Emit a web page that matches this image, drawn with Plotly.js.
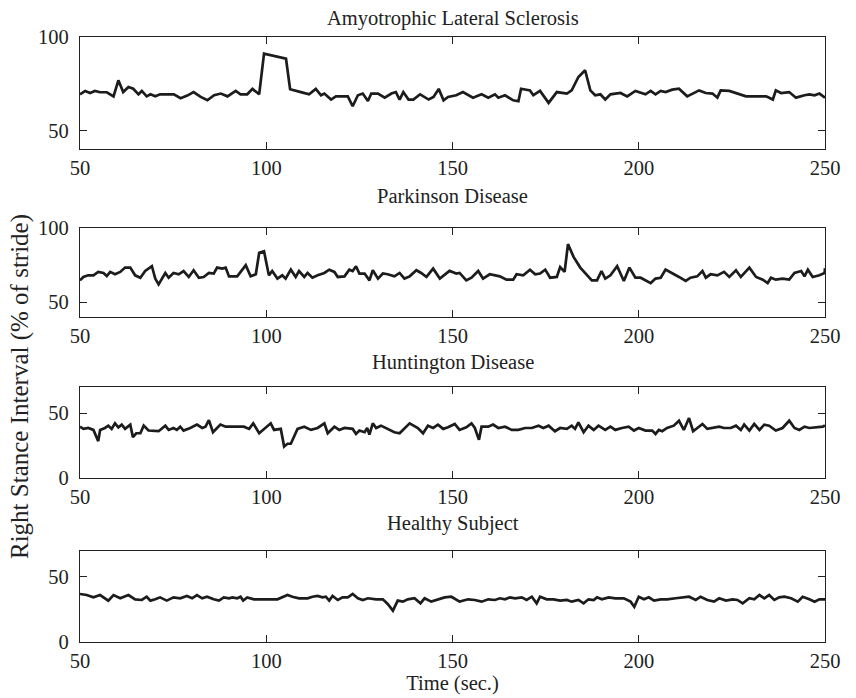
<!DOCTYPE html>
<html>
<head>
<meta charset="utf-8">
<script src="https://cdn.plot.ly/plotly-3.0.1.min.js"></script>
<style>html,body{margin:0;padding:0;background:#fff;}#chart{width:856px;height:698px;}</style>
</head>
<body>
<div id="chart"></div>
<script>
// ---- Data ----
const panelTitles = ["Amyotrophic Lateral Sclerosis", "Parkinson Disease", "Huntington Disease", "Healthy Subject"];
const xTickVals = [50, 100, 150, 200, 250];
const yTickVals = [[50, 100], [50, 100], [0, 50], [0, 50]];
const yRanges = [[40, 100], [40, 100], [0, 70], [0, 70]];

const alsTime = [50,51.4,52.7,54,55.4,57.2,59,60.3,61.6,63,64.3,65.7,66.6,67.9,68.9,70.2,71.5,75.2,77,78.8,80.5,82.4,84.2,86,87.8,89.6,91.8,93.1,94.9,96.3,98.1,99.4,105.3,106.4,109.3,111.5,113.3,114.7,115.6,117.4,118.7,121.9,123.2,124.6,125.9,127.3,128.2,130,131.8,133.6,134.8,135.8,136.8,138.2,139.5,141.3,143.6,144.9,146.3,147.6,148.8,151,152.8,155.5,157.8,159.6,161.4,162.3,164.1,166.3,167.7,168.4,170.8,171.7,173.5,175.8,178,180.7,182,183.8,185.6,187,188.3,189.7,191,192.4,195.1,196.9,199.1,201.8,203.2,204.5,205.9,207.2,209,210.8,213,216.2,218,219.8,221.1,222,224.3,226.1,228.8,234.2,236,236.8,238.2,240.4,242.2,244.5,245.8,247.2,248.5,250];
const alsValue = [69.3,71.1,70.0,71.1,70.4,70.4,68.2,76.8,70.5,73.2,72.3,69.3,71.1,68.2,69.3,68.2,69.3,69.3,67.2,68.6,70.5,67.9,66.1,68.8,69.7,68.2,71.1,69.3,69.3,72.2,69.3,91.1,88.4,72,70.5,69.3,72.2,68.8,69.7,66.5,68.2,68.2,62.9,68.8,69.7,65.7,69.7,69.7,67.5,69.7,70.5,66.5,70.5,66.5,66.5,69.3,66.5,67.9,72.2,66.1,67.9,68.8,70.5,67.5,69.3,67.5,69.3,67.5,68.8,66.1,65.6,72.3,71.4,68.8,71.1,64.7,70.5,69.7,71.4,78.6,82.2,71.4,68.8,69.3,66.5,69.3,70,68.2,71.1,69.3,71.1,69.3,71.1,70.5,71.8,72.3,68.2,71.4,70,69.7,67.5,71.4,71.1,70,68.2,68.2,66.5,71.4,70,70.5,67.5,68.8,69.3,68.8,69.7,67.5];

const pdTime = [50,50.9,52.2,53.6,54.9,56.3,57.2,58.1,59.4,60.8,62.1,63.5,64.8,66.2,67.5,69.3,70.2,71.1,72.9,73.8,75.1,76.5,77.8,79.2,80.5,81.9,83.2,84.6,85.9,86.8,88.2,89.1,90,92.2,94.5,95.8,97.2,98.1,99.4,100.7,101.6,103,104.3,105.2,106.6,107.9,108.8,110.2,111.1,112.4,113.8,115.6,116.9,118.3,119.2,121,122.3,123.2,124.1,125,126.4,127.7,128.6,130,131.3,132.6,134.4,135.8,137.1,138.5,140.3,141.6,143,144.8,146.6,149.2,151,151.9,153.7,155.1,156.9,158.2,160,161.4,162.7,164.5,166.3,167.2,169,170.8,172.2,173.5,174.9,176.2,178,178.9,180.1,181,182.5,184.3,186.1,187.4,188.8,190,191,192.4,194.2,196,197.5,199.1,200.5,201.8,203.2,204.5,205.9,207.2,209,210.8,212.6,213.9,215.7,217.1,218,219.3,221.1,222.9,224.3,226.1,227.4,229.7,231.5,233.3,234.6,235.5,236.8,238.6,240.4,241.8,243.6,244.5,245.4,246.7,248.5,249.9,250];
const pdValue = [64.6,66.9,68,68,70.3,69.6,67.5,70.3,68.7,70.3,73.2,73.2,68,66.4,70.9,74.1,65.8,61.9,69.6,66.4,69.6,68.7,70.9,66.9,71.4,66.4,66.9,69.6,69.2,73.2,72.5,73.2,67.3,67.3,74.8,67.3,68.7,83.1,84.2,68,70.9,65.8,68,65.8,71.8,66.9,70.9,66.9,69.6,66.4,68,69.6,71.8,70.3,66.9,67.3,71.8,70.9,74.1,69.2,69.2,64.6,71.4,65.8,69.2,68.7,67.3,69.6,65.8,67.3,71.4,69.6,66.9,72.5,65.8,71,69.2,69.6,64.6,66.4,70.9,65.8,68.7,68,67.3,65.1,65.1,68.7,68,71.8,68.7,69.2,71.8,66.4,66.9,73.6,70.3,89,80.4,73.2,68,64.6,64.6,70.9,65.8,68,74.1,64.2,73.2,66.4,66.4,64.6,62.8,65.8,66.4,71.8,69.6,66.9,64.2,66.4,67.3,70.9,66.4,68.7,68,70.3,66.9,71.4,66.9,73.2,66.9,65.1,62.8,66.4,65.1,65.8,65.1,69.6,70.9,67.3,71.8,66.9,68,69.6,72.8];

const hdTime = [50,50.9,52.2,53.6,54.9,55.4,56.7,57.6,58.5,59.4,60.3,61.2,62.1,63.5,64.2,65.1,66.2,67.1,68.4,69.8,71.1,72.9,73.8,75.1,76,76.9,77.8,79.6,81.4,82.8,83.7,84.6,85.7,86.8,87.7,89.1,94,95.4,96.5,98.1,99.4,101.2,102.1,103.9,104.8,105.7,106.6,108.4,110.2,112,113.8,115.6,116.5,118.3,119.6,121,123.2,124.1,125,126.4,127.1,127.7,128.6,129.5,130.8,132.6,134.4,135.8,138.5,140.7,142.1,143.4,144.8,146.1,147.5,148.8,150.6,151.9,153.7,155.1,156,157.1,157.8,159.6,160.9,162.3,164.1,165.9,167.7,169.5,171.3,173.1,174.4,175.8,177.5,178.9,180.7,182,182.9,183.8,185.2,186.5,187.9,189.2,191,192.4,193.7,195.5,197.3,198.7,200,201.8,203.6,204.5,205.4,206.3,207.6,209.4,210.8,212.1,213.5,214.6,215.7,217.1,218.4,220.2,221.6,222.9,224.7,226.1,227.4,228.3,229.7,231,232.4,233.7,235,236.8,238.6,240.4,241.8,243.1,244.5,245.8,247.6,249.4,250];
const hdValue = [39.5,37.8,38.5,37,28.3,37,38.5,40.3,37.8,42.1,39,41.1,37.8,41.1,31.4,34.4,34.4,40.3,36.5,36,36,40.3,37,38.5,37,39.5,36.5,38.5,41.1,38.5,39.5,44.6,35.2,38.5,41.1,39.5,39.5,37.8,42.1,34.4,37.8,42.1,37,37.8,24.2,26.3,26.3,37.8,39.5,37,38.5,42.1,34.4,39.5,37,38.5,37.8,33.9,36.5,35.2,38.5,33.4,42.1,38.5,40.3,37.8,35.2,34.4,42.1,38.5,34.4,40.3,38.5,41.1,37.8,39,41.6,37,39,42.1,38.5,29.3,39.5,39.5,41.1,38.5,39.5,37,37,38.5,38.5,40.3,38.5,40.3,36,38.5,37.8,40.3,37.8,42.8,35.2,40.3,37,40.3,37,39.5,37,38.5,39.5,36.5,38.5,36.5,36.5,33.9,37,36,38.5,40.3,44.1,37,46.2,36,38.5,41.6,37.8,38.5,39.5,38.5,38.5,40.3,37,41.1,36.5,41.6,37,41.1,40.3,36.5,38.5,44.1,38.5,37,39.5,38.5,39,39.5,40.5];

const hsTime = [50,51.8,53.6,55.4,57.6,59,60.8,63,64.8,66.6,67.9,68.9,70.2,71.5,73.3,75.1,76.9,78.7,80.1,81.4,82.8,84.1,85.9,87.3,88.6,90,90.9,92.2,93.1,93.8,94.9,96.7,103,104.3,105.7,107,108.8,111.1,112.4,113.8,115.1,116,116.9,117.8,119.2,120.5,121.9,123.2,124.6,125.9,127.3,129.5,131.3,132.6,134,135.3,136.7,138,139.8,141.4,142.5,144.3,146.1,147.9,149.7,151.9,154.2,156,157.8,159.6,161.4,162.7,164.1,165.4,166.8,168.6,169.9,171.3,172.6,173.5,175.3,177.1,178.9,180.7,182,183.8,185.2,186.5,187.9,188.8,190.1,191.9,193.7,196,197.8,198.8,200,201.4,202.7,204.1,205.9,207.6,209.9,211.7,213.5,215.3,216.6,218.4,220.2,221.6,223.4,225.2,226.5,227.9,229.7,231,232.4,233.7,235,236.4,237.7,239.1,240.9,242.7,244,245.8,247.2,248.5,250];
const hsValue = [36.7,35.9,34.1,35.9,31.6,35.9,33.4,35.9,32.6,32.1,34.6,31.6,32.6,34.1,31.6,34.1,33.4,35.2,33.4,35.9,33.4,34.6,32.6,31.6,34.1,33.4,34.1,33.4,34.6,31.6,34.1,32.6,32.6,34.1,35.9,34.6,33.4,33.4,34.6,35.2,34.1,34.6,31.6,35.2,32.1,34.1,34.1,36.7,33.4,32.1,33.4,32.6,32.6,29,23.9,31.6,30.8,32.6,33.4,29.5,33.4,30.8,32.6,34.1,34.6,30.8,32.6,32.1,30.8,32.6,32.1,33.4,32.6,34.1,33.4,34.1,32.1,34.6,29.5,34.6,32.6,32.6,31.6,32.1,30.8,32.1,29.5,32.6,32.1,34.1,32.6,34.1,33.4,33.4,30.8,26.9,34.6,32.6,34.1,31.6,32.6,32.6,33.4,34.1,34.6,32.1,34.6,32.1,30.8,33.4,31.6,32.6,32.1,29.5,33.4,32.6,35.9,33.4,35.9,32.1,34.1,34.6,33.4,30.8,34.6,32.6,30.8,32.6,32.6];

const seriesX = [alsTime, pdTime, hdTime, hsTime];
const seriesY = [alsValue, pdValue, hdValue, hsValue];

// ---- Layout geometry (pixels in the 856x698 figure) ----
const W = 856, H = 698;
const panelPx = [[37, 149], [227.7, 317], [387.3, 477.7], [550.7, 641.7]];
const titleCenterPx = [18.5, 196, 362.5, 523.5];
const FONT = "'Liberation Serif', 'Times New Roman', Times, serif";
const TXT = '#222';

const traces = [];
const layout = {
  width: W, height: H,
  margin: {l: 80, r: 31, t: 0, b: 0},
  paper_bgcolor: '#fff', plot_bgcolor: '#fff',
  showlegend: false,
  font: {family: FONT, size: 20.5, color: TXT},
  annotations: []
};

for (let i = 0; i < 4; i++) {
  const sfx = i === 0 ? '' : String(i + 1);
  traces.push({
    x: seriesX[i], y: seriesY[i],
    xaxis: 'x' + sfx, yaxis: 'y' + sfx,
    type: 'scatter', mode: 'lines',
    line: {color: '#1c1c1c', width: 2.7},
    hoverinfo: 'skip'
  });
  const top = panelPx[i][0], bot = panelPx[i][1];
  const common = {
    showgrid: false, zeroline: false,
    showline: true, mirror: 'ticks', linecolor: '#222', linewidth: 1.2,
    ticks: 'inside', ticklen: 7, tickwidth: 1, tickcolor: '#222',
    tickfont: {family: FONT, size: 20.5, color: TXT}
  };
  layout['xaxis' + sfx] = Object.assign({}, common, {
    domain: [0, 1], anchor: 'y' + sfx, range: [50, 250],
    tickmode: 'array', tickvals: xTickVals, ticklabelstandoff: 0
  });
  layout['yaxis' + sfx] = Object.assign({}, common, {
    domain: [1 - bot / H, 1 - top / H], anchor: 'x' + sfx, range: yRanges[i],
    tickmode: 'array', tickvals: yTickVals[i], ticklabelstandoff: 6
  });
  layout.annotations.push({
    text: panelTitles[i], xref: 'paper', yref: 'paper',
    x: 0.5, y: 1 - titleCenterPx[i] / H, xanchor: 'center', yanchor: 'middle',
    showarrow: false, font: {family: FONT, size: 20.5, color: TXT}
  });
}
layout.xaxis4.title = {text: 'Time (sec.)', font: {family: FONT, size: 20.5, color: TXT}, standoff: 4};
layout.annotations.push({
  text: 'Right Stance Interval (% of stride)', xref: 'paper', yref: 'paper',
  x: (20 - 80) / 745, y: 1 - 387 / H, xanchor: 'center', yanchor: 'middle',
  textangle: -90, showarrow: false, font: {family: FONT, size: 25, color: TXT}
});

Plotly.newPlot('chart', traces, layout, {displayModeBar: false, staticPlot: true});
</script>
</body>
</html>
